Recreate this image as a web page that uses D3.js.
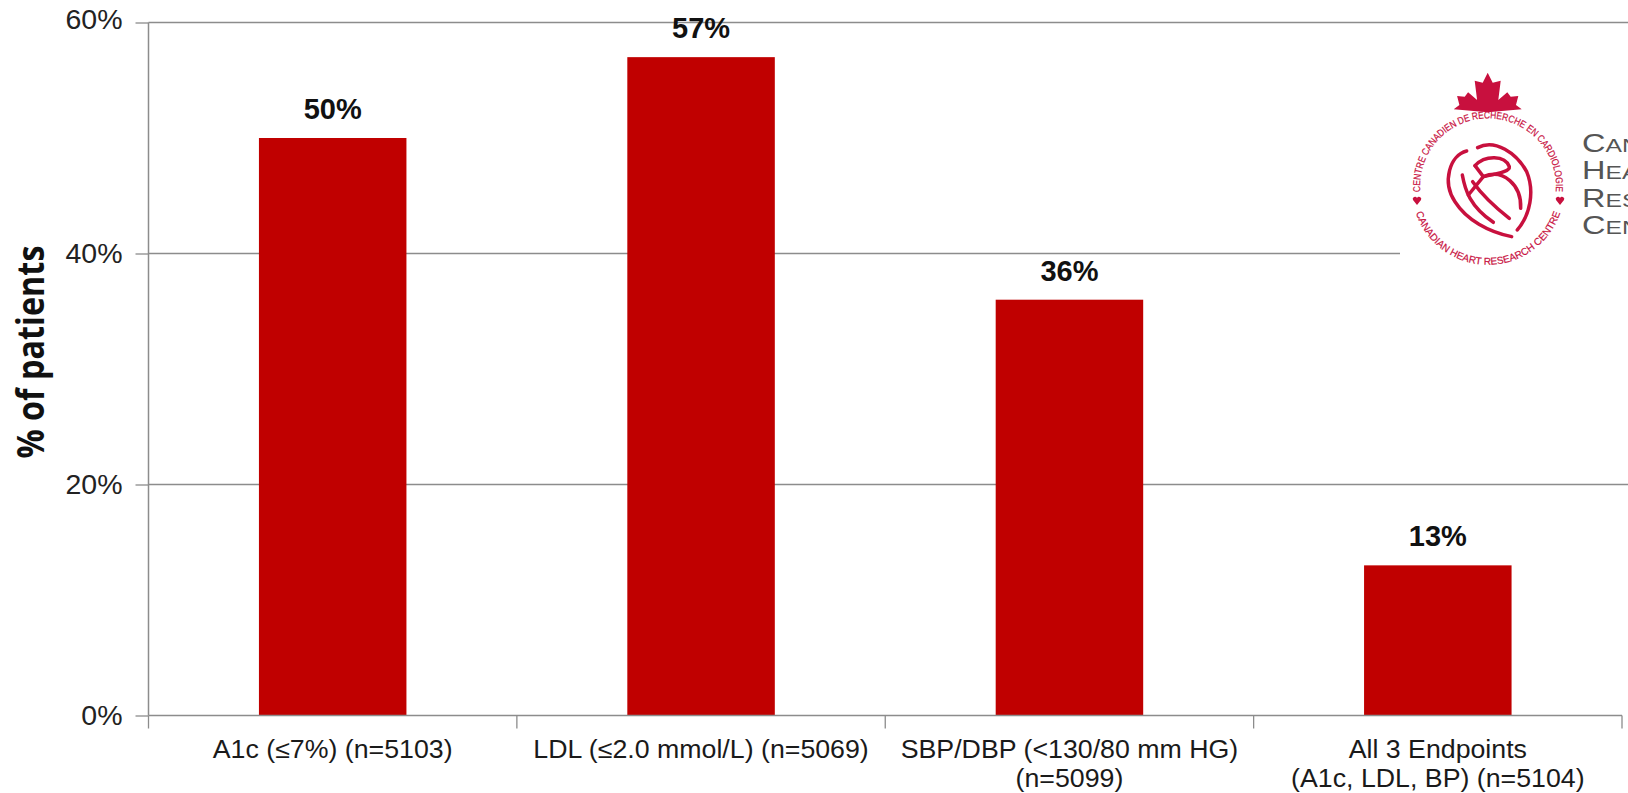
<!DOCTYPE html>
<html>
<head>
<meta charset="utf-8">
<script src="https://cdn.jsdelivr.net/npm/d3@7/dist/d3.min.js"></script>
<style>
html,body{margin:0;padding:0;background:#fff;overflow:hidden}
svg{display:block}
</style>
</head>
<body>
<svg id="chart" width="1628" height="793"></svg>
<script>
// Guideline attainment by endpoint
const categories = ["A1c", "LDL", "SBP/DBP", "All 3"];
const categoryLabels = [
  ["A1c (≤7%) (n=5103)"],
  ["LDL (≤2.0 mmol/L)  (n=5069)"],
  ["SBP/DBP (<130/80 mm HG)", "(n=5099)"],
  ["All 3 Endpoints", "(A1c, LDL, BP) (n=5104)"]
];
const percentPatients = [50, 57, 36, 13];
const yTicks = [0, 20, 40, 60];
const yTitle = "% of patients";
const logoWords = ["CAN", "HEA", "RES", "CEN"];
const logoTopText = "CENTRE CANADIEN DE RECHERCHE EN CARDIOLOGIE";
const logoBottomText = "CANADIAN HEART RESEARCH CENTRE";

const svg = d3.select("#chart");
const axisColor = "#8c8c8c", barColor = "#c00000", logoColor = "#c8103e";

const x = d3.scaleBand().domain(categories).range([148.5, 1622]).paddingInner(0).paddingOuter(0);
const y = d3.scaleLinear().domain([0, 60]).range([715.5, 22.5]);
const barWidth = 147.5;

// Horizontal gridlines
svg.append("g").selectAll("line").data(yTicks.filter(d => d > 0)).join("line")
  .attr("x1", x.range()[0]).attr("x2", 1628)
  .attr("y1", d => y(d)).attr("y2", d => y(d))
  .attr("stroke", axisColor).attr("stroke-width", 1.3);

// Bars
svg.append("g").selectAll("rect").data(percentPatients).join("rect")
  .attr("x", (d, i) => x(categories[i]) + x.bandwidth() / 2 - barWidth / 2)
  .attr("width", barWidth)
  .attr("y", d => y(d))
  .attr("height", d => y(0) - y(d))
  .attr("fill", barColor);

// Value labels above bars
svg.append("g").selectAll("text").data(percentPatients).join("text")
  .attr("x", (d, i) => x(categories[i]) + x.bandwidth() / 2)
  .attr("y", d => y(d) - 19)
  .attr("text-anchor", "middle")
  .attr("font-family", "Liberation Sans")
  .attr("font-weight", "bold")
  .attr("font-size", 29)
  .attr("fill", "#111")
  .text(d => d + "%");

// Y axis
const yAxis = d3.axisLeft(y).tickValues(yTicks).tickFormat(d => d + "%").tickSize(13).tickPadding(13);
const yG = svg.append("g").attr("transform", `translate(${x.range()[0]},0)`).call(yAxis);
yG.select(".domain").attr("stroke", axisColor).attr("stroke-width", 1.5).attr("d", `M0,${y(60)}V${y(0)}`);
yG.selectAll(".tick line").attr("stroke", axisColor).attr("stroke-width", 1.3);
yG.selectAll(".tick text")
  .attr("font-family", "Liberation Sans").attr("font-size", 28.5).attr("fill", "#222")
  .attr("y", d => d === 60 ? -3 : 0);

// X axis: ticks sit on the category boundaries
const boundaries = categories.map(c => x(c)).concat(x.range()[1]);
const xG = svg.append("g");
xG.append("line").attr("x1", x.range()[0]).attr("x2", x.range()[1])
  .attr("y1", y(0)).attr("y2", y(0)).attr("stroke", axisColor).attr("stroke-width", 1.5);
xG.selectAll(".b").data(boundaries).join("line").attr("class", "b")
  .attr("x1", d => d).attr("x2", d => d)
  .attr("y1", y(0)).attr("y2", y(0) + 13)
  .attr("stroke", axisColor).attr("stroke-width", 1.3);

// Category labels, one or two lines, slightly widened
const labelG = svg.append("g").selectAll("text").data(categoryLabels).join("text")
  .attr("text-anchor", "middle")
  .attr("font-family", "Liberation Sans")
  .attr("font-size", 25)
  .attr("fill", "#1a1a1a")
  .attr("transform", (d, i) => `translate(${x(categories[i]) + x.bandwidth() / 2},0) scale(1.07,1)`);
labelG.selectAll("tspan").data(d => d).join("tspan")
  .attr("x", 0)
  .attr("y", (d, i) => 758 + i * 29)
  .text(d => d);

// Y axis title
svg.append("text")
  .attr("transform", "translate(44,352) rotate(-90)")
  .attr("text-anchor", "middle")
  .attr("font-family", "Open Sans")
  .attr("font-weight", "bold")
  .attr("font-size", 37)
  .attr("textLength", 213)
  .attr("lengthAdjust", "spacingAndGlyphs")
  .attr("fill", "#111")
  .text(yTitle);

// Centre logo, laid over the plot on a white panel
const logo = svg.append("g");
logo.append("rect").attr("x", 1400).attr("y", 60).attr("width", 228).attr("height", 235).attr("fill", "#fff");
const cx = 1488, cy = 190;
const defs = svg.append("defs");
defs.append("path").attr("id", "arcTop").attr("d", `M${cx - 67},${cy + 8} A68,68 0 1 1 ${cx + 67},${cy + 8}`);
defs.append("path").attr("id", "arcBottom").attr("d", `M${cx - 73},${cy + 20} A76,76 0 0 0 ${cx + 73},${cy + 20}`);

// Maple leaf, mirrored about its central spike
const leafRight = [[5, 10], [13, 8], [10.6, 27.3], [19.6, 19.6], [23, 24], [30.6, 23.3], [28.3, 32.3], [34, 36.6], [0, 39.5]];
const leafLeft = leafRight.slice(0, -1).map(([a, b]) => [-a, b]).reverse();
logo.append("path")
  .attr("fill", logoColor)
  .attr("transform", "translate(1487.7,72.7)")
  .attr("d", d3.line()([[0, 0], ...leafRight, ...leafLeft]) + "Z");

[[logoTopText, "#arcTop", 224], [logoBottomText, "#arcBottom", 190]].forEach(([t, id, len]) => {
  logo.append("text").attr("font-family", "Liberation Sans").attr("font-size", 10)
    .attr("fill", logoColor).attr("stroke", logoColor).attr("stroke-width", 0.2)
    .append("textPath").attr("href", id).attr("startOffset", "50%").attr("text-anchor", "middle")
    .attr("textLength", len).attr("lengthAdjust", "spacingAndGlyphs").text(t);
});

// Small hearts at the two ends of the ring
[[1417, 200], [1560, 200]].forEach(([hx, hy]) => {
  logo.append("path").attr("fill", logoColor)
    .attr("d", `M${hx},${hy + 5} L${hx - 4},${hy} A2.2,2.2 0 0 1 ${hx},${hy - 2} A2.2,2.2 0 0 1 ${hx + 4},${hy} Z`);
});

// Heart emblem strokes, drawn on a 3x grid
const emblem = [
  "M110,78 C60,90 35,170 75,230 C110,285 175,320 245,335",
  "M143,68 C195,40 260,85 290,140 C315,200 300,270 262,315",
  "M97,150 C105,195 120,245 190,292",
  "M135,122 C165,90 225,90 238,125 C240,140 205,145 160,155",
  "M115,210 L160,155 L135,122",
  "M160,155 C220,130 275,180 272,250",
  "M128,170 C160,215 200,250 238,280"
];
logo.append("g").attr("transform", "translate(1430,125) scale(0.3333)")
  .selectAll("path").data(emblem).join("path")
  .attr("d", d => d).attr("fill", "none").attr("stroke", logoColor)
  .attr("stroke-width", 10.5).attr("stroke-linecap", "round").attr("stroke-linejoin", "round");

// Wordmark, wide small caps running off the edge
logo.selectAll(".word").data(logoWords).join("text").attr("class", "word")
  .attr("transform", (d, i) => `translate(1582,${151.5 + i * 27.5}) scale(1.3,1)`)
  .attr("font-family", "Liberation Sans")
  .attr("fill", "#555")
  .attr("font-size", 19)
  .each(function (d) {
    d3.select(this).append("tspan").attr("font-size", 25).text(d[0]);
    d3.select(this).append("tspan").text(d.slice(1));
  });
</script>
</body>
</html>
